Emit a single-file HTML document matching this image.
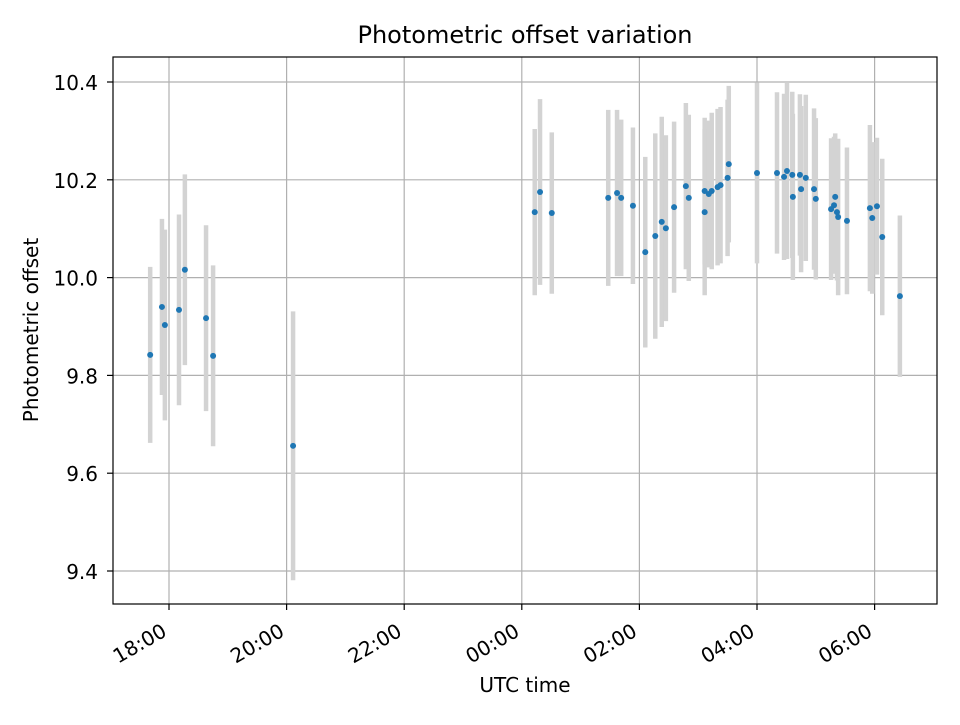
<!DOCTYPE html>
<html><head><meta charset="utf-8"><style>
body{margin:0;background:#fff}
svg text{font-family:"DejaVu Sans","Liberation Sans",sans-serif;fill:#000}
</style></head><body>
<svg id="chart" width="960" height="720" viewBox="0 0 960 720" xmlns="http://www.w3.org/2000/svg">
<rect width="960" height="720" fill="#fff"/>
<g id="grid"></g><g id="bars"></g><g id="pts"></g><g id="axes"></g>
</svg>
<script>
const times=[17.68,17.88,17.93,18.17,18.27,18.63,18.75,20.11,24.22,24.31,24.51,25.47,25.62,25.69,25.89,26.1,26.27,26.38,26.45,26.59,26.79,26.84,27.11,27.11,27.18,27.23,27.33,27.38,27.5,27.52,28.0,28.34,28.51,28.46,28.6,28.61,28.73,28.75,28.83,28.97,29.0,29.33,29.26,29.31,29.36,29.38,29.53,29.92,29.96,30.04,30.13,30.43];
const offsets=[9.842,9.94,9.903,9.934,10.016,9.917,9.84,9.656,10.134,10.175,10.132,10.163,10.173,10.163,10.147,10.052,10.085,10.114,10.101,10.144,10.187,10.163,10.134,10.177,10.171,10.177,10.185,10.189,10.204,10.232,10.214,10.214,10.218,10.206,10.21,10.165,10.21,10.181,10.204,10.181,10.161,10.165,10.14,10.148,10.134,10.124,10.116,10.142,10.122,10.146,10.083,9.962];
const errors=[0.18,0.18,0.195,0.195,0.195,0.19,0.185,0.275,0.17,0.19,0.165,0.18,0.17,0.16,0.16,0.195,0.21,0.215,0.19,0.175,0.17,0.17,0.17,0.15,0.15,0.16,0.16,0.16,0.16,0.16,0.185,0.165,0.18,0.17,0.17,0.17,0.165,0.17,0.17,0.165,0.165,0.13,0.145,0.14,0.14,0.16,0.15,0.17,0.155,0.14,0.16,0.165];
const xTicks=[18,20,22,24,26,28,30];
const xTickLabels=["18:00","20:00","22:00","00:00","02:00","04:00","06:00"];
const yTicks=[9.4,9.6,9.8,10.0,10.2,10.4];
const L=113,R=937,T=57,B=604;
const xs=h=>169+(h-18)*58.8;
const ys=v=>82+(10.4-v)*489;
const NS="http://www.w3.org/2000/svg";
function mk(tag,attrs,parent,text){const e=document.createElementNS(NS,tag);for(const k in attrs)e.setAttribute(k,attrs[k]);if(text!==undefined)e.textContent=text;parent.appendChild(e);return e;}
const grid=document.getElementById('grid'),bars=document.getElementById('bars'),pts=document.getElementById('pts'),axes=document.getElementById('axes');
xTicks.forEach((t,i)=>{const x=xs(t);
const g=mk('line',{x1:x,x2:x,y1:T,y2:B,stroke:'#b0b0b0','stroke-width':1.2},grid);


mk('line',{x1:x,x2:x,y1:B,y2:B+6,stroke:'#000','stroke-width':1.2},axes);
const ax=x-1,ay=B+31;
const tx=mk('text',{x:ax,y:ay,'font-size':20,'text-anchor':'end',transform:`rotate(-30 ${ax} ${ay})`},axes,xTickLabels[i]);


});
yTicks.forEach(t=>{const y=ys(t);
const g=mk('line',{x1:L,x2:R,y1:y,y2:y,stroke:'#b0b0b0','stroke-width':1.2},grid);


mk('line',{x1:L-6,x2:L,y1:y,y2:y,stroke:'#000','stroke-width':1.2},axes);
const tx=mk('text',{x:L-15,y:y+8,'font-size':20,'text-anchor':'end'},axes,t.toFixed(1));


});
times.forEach((h,i)=>{const x=xs(h);
const b=mk('line',{x1:x,x2:x,y1:ys(offsets[i]+errors[i]),y2:ys(offsets[i]-errors[i]),stroke:'#d3d3d3','stroke-width':4.5},bars);


const c=mk('circle',{cx:x,cy:ys(offsets[i]),r:3,fill:'#1f77b4'},pts);


});
const fr=mk('rect',{x:L,y:T,width:R-L,height:B-T,fill:'none',stroke:'#000','stroke-width':1.2},axes);


const ti=mk('text',{x:525,y:43,'font-size':24,'text-anchor':'middle'},axes,'Photometric offset variation');


const xl=mk('text',{x:525,y:692,'font-size':20,'text-anchor':'middle'},axes,'UTC time');


const yl=mk('text',{x:38,y:330,'font-size':20,'text-anchor':'middle',transform:'rotate(-90 38 330)'},axes,'Photometric offset');


</script>
</body></html>
